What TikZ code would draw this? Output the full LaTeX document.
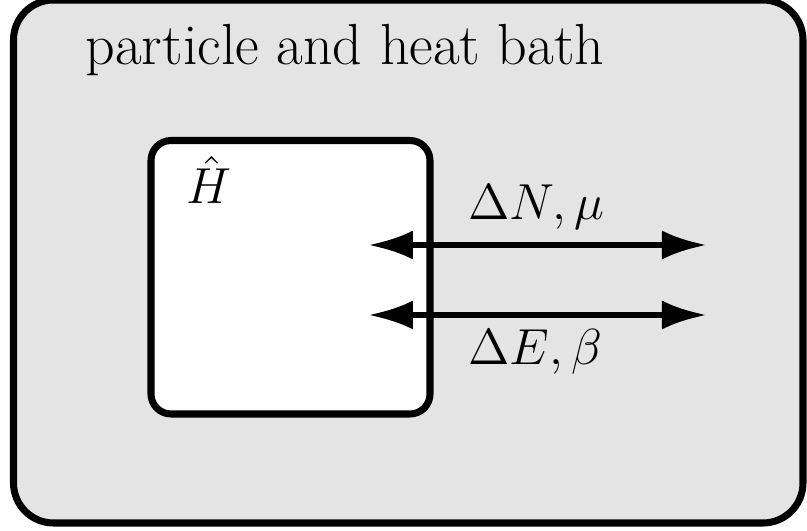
\documentclass[tikz,border=0pt]{standalone}
\usepackage{bm}
\definecolor{bathgray}{HTML}{E4E4E4}
\usepackage{tikz}
\usetikzlibrary{positioning, arrows.meta, calc}
\tikzset{
	bathbox/.style={
			draw=black,
			fill=bathgray,
			line width=2pt,
			rounded corners=4mm
		},
	systembox/.style={
			draw=black,
			fill=white,
			line width=2pt,
			rounded corners=2mm
		},
	flowarrow/.style={
			line width=1.85pt,
			{Latex[length=4.5mm,width=2.9mm]}-{Latex[length=4.5mm,width=2.9mm]}
		},
	labelnode/.style={
			inner sep=0pt,
			anchor=base west,
			font=\fontsize{15}{18}\selectfont
		},
	titlenode/.style={
			labelnode,
			font=\fontsize{16.5}{20}\selectfont
		}
}

\begin{document}
\begin{tikzpicture}
\useasboundingbox (0,0) rectangle (8.07,5.31);
\draw[bathbox] (0.135,0.08) rectangle (8.03,5.31);
\draw[systembox] (1.51,1.17) rectangle (4.30,3.905);

\node[titlenode] (title) at (0.85,4.66) {particle and heat bath};
\node[labelnode] (ham) at (1.86,3.27) {$\hat{H}$};

\coordinate (nL) at (3.68,2.86);
\coordinate (nR) at (7.07,2.86);
\coordinate (eL) at (3.68,2.16);
\coordinate (eR) at (7.07,2.16);

\draw[flowarrow] (nL) -- (nR);
\draw[flowarrow] (eL) -- (eR);

\node[labelnode] (nlabel) at (4.68,3.11) {$\Delta N, \mu$};
\node[labelnode] (elabel) at (4.68,1.66) {$\Delta E, \beta$};
\end{tikzpicture}
\end{document}
